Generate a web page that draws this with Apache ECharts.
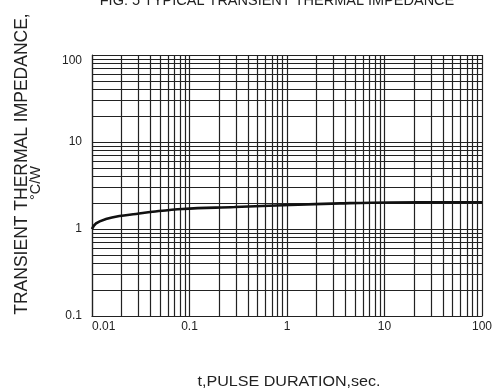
<!DOCTYPE html>
<html>
<head>
<meta charset="utf-8">
<script src="https://cdn.jsdelivr.net/npm/echarts@6/dist/echarts.min.js"></script>
<style>
html,body{margin:0;padding:0;background:#fff;}
#chart{width:504px;height:392px;}
</style>
</head>
<body>
<div id="chart"></div>
<script>
// ---- data ----
var pulseDuration = [0.01, 0.011, 0.0139, 0.0191, 0.0283, 0.0419, 0.0848, 0.29, 1.07, 3.5, 11.3, 100];
var thermalImpedance = [1.0, 1.16, 1.30, 1.41, 1.49, 1.58, 1.70, 1.79, 1.89, 1.97, 2.02, 2.03];
var xTickLabels = ['0.01', '0.1', '1', '10', '100'];
var yTickLabels = ['0.1', '1', '10', '100'];
var minorMultipliers = [1, 2, 3, 4, 5, 6, 7, 8, 9];

var titleText = 'FIG. 5 TYPICAL TRANSIENT THERMAL IMPEDANCE';
var yTitle1 = 'TRANSIENT THERMAL IMPEDANCE,';
var yTitle2 = '\u00B0C/W';
var xTitle = 't,PULSE DURATION,sec.';

var FONT = '"Liberation Sans", Arial, sans-serif';

function gridValues(decades) {
  var out = [];
  for (var i = 0; i < decades.length - 1; i++) {
    var d = parseFloat(decades[i]);
    minorMultipliers.forEach(function (m) { out.push(+(d * m).toPrecision(6)); });
  }
  out.push(parseFloat(decades[decades.length - 1]));
  return out;
}
var xGrid = gridValues(xTickLabels);
var yGrid = gridValues(yTickLabels);

function fmt(v) { return String(+(+v).toPrecision(6)); }

var chart = echarts.init(document.getElementById('chart'));
chart.setOption({
  animation: false,
  backgroundColor: '#fff',
  grid: { left: 92, right: 22, top: 55, bottom: 76 },
  xAxis: {
    type: 'log', logBase: 10,
    min: parseFloat(xTickLabels[0]), max: parseFloat(xTickLabels[xTickLabels.length - 1]),
    axisLine: { show: true, lineStyle: { color: '#111', width: 1.2 } },
    axisTick: { show: false },
    splitLine: { show: false },
    axisLabel: { color: '#222', fontSize: 12, fontFamily: FONT, margin: 5, formatter: fmt, alignMinLabel: 'left' }
  },
  yAxis: {
    type: 'log', logBase: 10,
    min: parseFloat(yTickLabels[0]), max: parseFloat(yTickLabels[yTickLabels.length - 1]),
    axisLine: { show: true, lineStyle: { color: '#111', width: 1.2 } },
    axisTick: { show: false },
    splitLine: { show: false },
    axisLabel: { color: '#222', fontSize: 12, fontFamily: FONT, margin: 10, formatter: fmt, verticalAlignMaxLabel: 'top' }
  },
  series: [
    {
      type: 'line', data: [], silent: true, z: 1,
      markLine: {
        silent: true, symbol: 'none', animation: false,
        label: { show: false },
        lineStyle: { color: '#222', width: 1.2, type: 'solid' },
        emphasis: { disabled: true },
        data: xGrid.map(function (v) { return { xAxis: v }; })
          .concat(yGrid.map(function (v) { return { yAxis: v }; }))
      }
    },
    {
      type: 'line', z: 5,
      data: pulseDuration.map(function (t, i) { return [t, thermalImpedance[i]]; }),
      smooth: 0.4, showSymbol: false, symbol: 'none',
      lineStyle: { color: '#111', width: 2.6 }
    }
  ],
  graphic: [
    { type: 'text', x: 277, y: 1, style: { text: titleText, fontSize: 14.5, fontFamily: FONT, fill: '#222', align: 'center', verticalAlign: 'middle' } },
    { type: 'text', x: 22.5, y: 164, rotation: Math.PI / 2, style: { text: yTitle1, fontSize: 17.5, fontFamily: FONT, fill: '#222', align: 'center', verticalAlign: 'middle' } },
    { type: 'text', x: 36, y: 183, rotation: Math.PI / 2, style: { text: yTitle2, fontSize: 14.5, fontFamily: FONT, fill: '#222', align: 'center', verticalAlign: 'middle' } },
    { type: 'text', x: 289, y: 382, scaleX: 1.15, style: { text: xTitle, fontSize: 14, fontFamily: FONT, fill: '#222', align: 'center', verticalAlign: 'middle' } }
  ]
});
</script>
</body>
</html>
